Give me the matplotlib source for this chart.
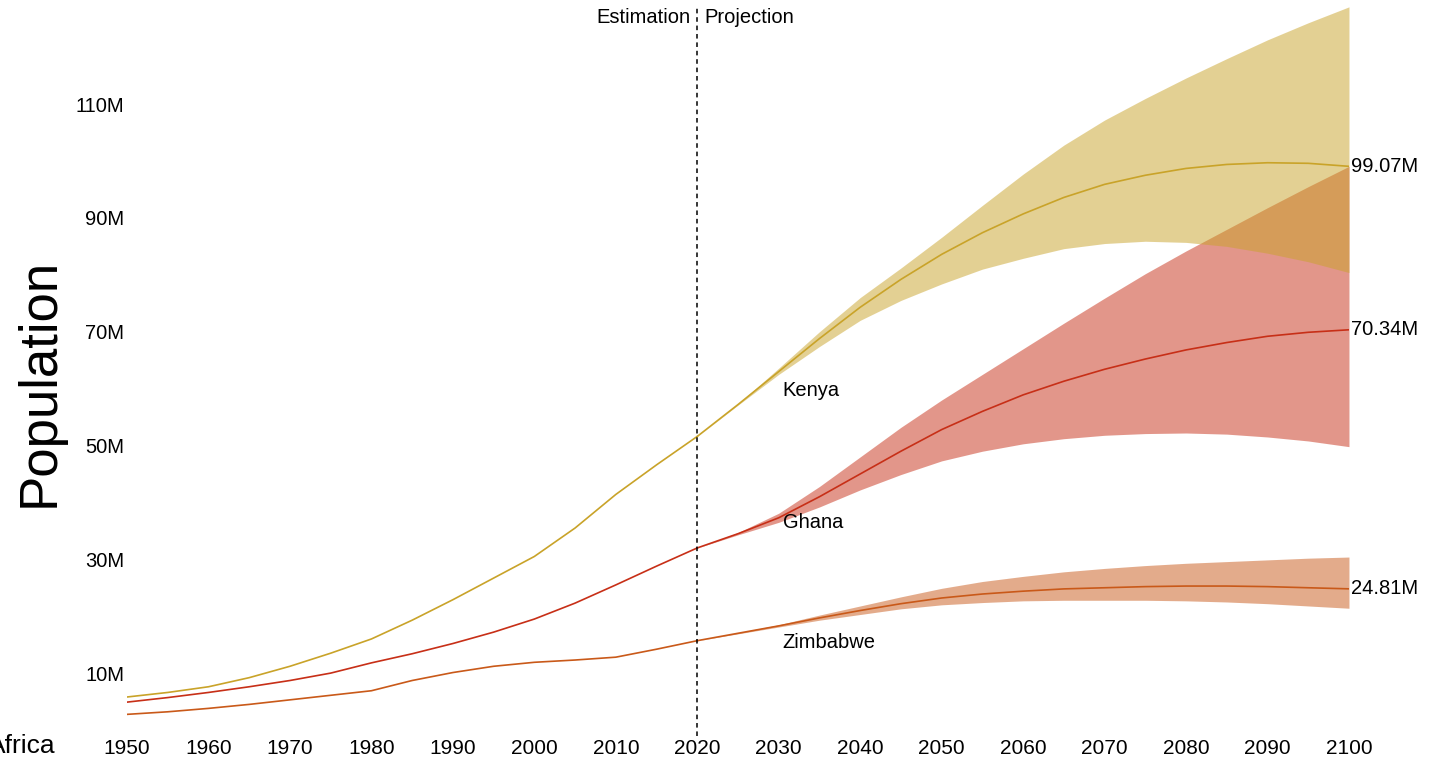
import numpy as np
import matplotlib
matplotlib.use("Agg")
import matplotlib.pyplot as plt

plt.rcParams['font.family'] = ['Liberation Sans', 'DejaVu Sans']

# historical estimates, 1950-2020, 5-year steps (millions)
anos_hist = [1950, 1955, 1960, 1965, 1970, 1975, 1980, 1985, 1990, 1995,
             2000, 2005, 2010, 2015, 2020]
kenya_hist = [5.8, 6.6, 7.6, 9.2, 11.2, 13.5, 16.0, 19.3, 22.9, 26.7,
              30.5, 35.5, 41.4, 46.6, 51.6]
ghana_hist = [4.9, 5.7, 6.6, 7.6, 8.7, 10.0, 11.8, 13.4, 15.2, 17.2,
              19.5, 22.3, 25.5, 28.8, 32.0]
zimbabwe_hist = [2.75, 3.2, 3.8, 4.5, 5.3, 6.1, 6.9, 8.7, 10.1, 11.2,
                 11.9, 12.3, 12.8, 14.2, 15.7]

# projections, 2020-2100 (median, lower and upper bound)
anos_proj = [2020, 2025, 2030, 2035, 2040, 2045, 2050, 2055, 2060, 2065,
             2070, 2075, 2080, 2085, 2090, 2095, 2100]
kenya_med = [51.6, 57.2, 63.0, 68.8, 74.3, 79.2, 83.6, 87.4, 90.7, 93.6,
             95.9, 97.5, 98.7, 99.4, 99.7, 99.6, 99.07]
kenya_low = [51.6, 57.1, 62.5, 67.4, 72.0, 75.5, 78.4, 81.0, 82.9, 84.6,
             85.5, 85.9, 85.7, 85.0, 83.8, 82.3, 80.4]
kenya_up = [51.6, 57.3, 63.6, 70.0, 76.0, 81.2, 86.6, 92.2, 97.7, 102.8,
            107.2, 111.0, 114.6, 118.0, 121.3, 124.3, 127.1]
ghana_med = [32.0, 34.5, 37.3, 41.0, 45.0, 49.0, 52.8, 56.0, 58.9, 61.3,
             63.4, 65.2, 66.8, 68.1, 69.2, 69.9, 70.34]
ghana_low = [32.0, 34.3, 36.5, 39.2, 42.2, 44.9, 47.3, 49.0, 50.3, 51.2,
             51.8, 52.1, 52.2, 52.0, 51.5, 50.8, 49.8]
ghana_up = [32.0, 34.7, 38.1, 42.8, 48.0, 53.2, 58.0, 62.5, 67.0, 71.5,
            75.9, 80.2, 84.2, 88.0, 91.8, 95.5, 99.07]
zimbabwe_med = [15.7, 17.0, 18.3, 19.7, 21.0, 22.2, 23.2, 23.9, 24.4, 24.8,
                25.0, 25.2, 25.3, 25.3, 25.2, 25.0, 24.81]
zimbabwe_low = [15.7, 16.9, 18.1, 19.3, 20.3, 21.3, 22.0, 22.4, 22.7, 22.8,
                22.8, 22.8, 22.7, 22.5, 22.2, 21.8, 21.4]
zimbabwe_up = [15.7, 17.1, 18.5, 20.2, 21.8, 23.4, 24.9, 26.1, 27.0, 27.8,
               28.4, 28.9, 29.3, 29.6, 29.9, 30.2, 30.4]

paises = ['Zimbabwe', 'Ghana', 'Kenya']
cores = {'Kenya': '#c9a329', 'Ghana': '#c72f17', 'Zimbabwe': '#c95919'}
series = {
    'Kenya': (kenya_hist, kenya_med, kenya_low, kenya_up),
    'Ghana': (ghana_hist, ghana_med, ghana_low, ghana_up),
    'Zimbabwe': (zimbabwe_hist, zimbabwe_med, zimbabwe_low, zimbabwe_up),
}
rotulo_offset = {'Kenya': -3.3, 'Ghana': -0.8, 'Zimbabwe': -2.9}

yticks = [10, 30, 50, 70, 90, 110]
xticks = list(range(1950, 2101, 10))

fig = plt.figure(figsize=(14.29, 7.64), dpi=100)
ax = fig.add_axes([0.0889, 0.0445, 0.8551, 0.9458])

for pais in paises:
    hist, med, low, up = series[pais]
    cor = cores[pais]
    ax.fill_between(anos_proj, low, up, color=cor, alpha=0.5, lw=0)
    ax.plot(anos_hist, hist, color=cor, lw=1.2)
    ax.plot(anos_proj, med, color=cor, lw=1.2)
    ax.text(2100.3, med[-1], f'{med[-1]:.2f}M', fontsize=14.5, va='center', ha='left')
    y_label = np.interp(2030, anos_proj, med) + rotulo_offset[pais]
    ax.text(2030.5, y_label, pais, fontsize=14.5, va='center', ha='left')

# estimation / projection separator
ax.plot([2020, 2020], [-1, 127], color='black', lw=1.1, ls=(0, (3, 2.5)), clip_on=False)
ax.text(2019.2, 125.2, 'Estimation', fontsize=14.5, ha='right', va='center')
ax.text(2020.9, 125.2, 'Projection', fontsize=14.5, ha='left', va='center')

ax.set_xlim(1950, 2100)
ax.set_ylim(0, 127)
ax.set_xticks(xticks)
ax.set_xticklabels([str(a) for a in xticks], fontsize=15)
ax.set_yticks(yticks)
ax.set_yticklabels([f'{v}M' for v in yticks], fontsize=14.5)
ax.tick_params(axis='x', length=0, pad=6.5)
ax.tick_params(axis='y', length=0, pad=2)
for lado in ax.spines.values():
    lado.set_visible(False)

fig.text(0.028, 0.5, 'Population', rotation=90, fontsize=38, ha='center', va='center')
fig.text(0.039, 0.0236, 'Africa', fontsize=19, ha='right', va='center')

plt.savefig('out.png', dpi=100)
plt.close()
